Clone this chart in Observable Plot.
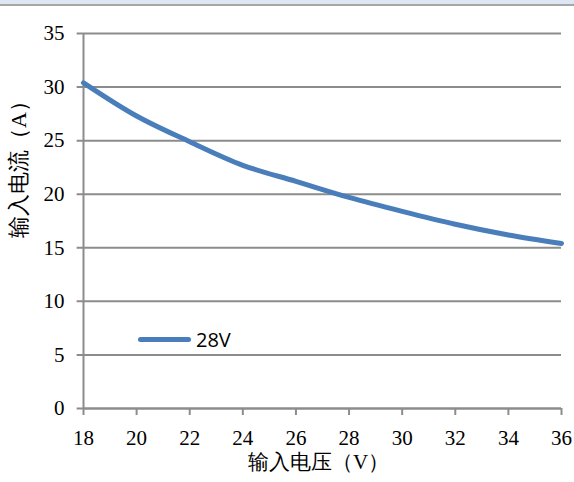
<!DOCTYPE html>
<html>
<head>
<meta charset="utf-8">
<script src="https://cdn.jsdelivr.net/npm/d3@7"></script>
<script src="https://cdn.jsdelivr.net/npm/@observablehq/plot@0.6"></script>
<style>
  html, body { margin: 0; padding: 0; background: #fff; font-family: serif; }
  #wrap { position: relative; width: 574px; height: 482px; overflow: hidden; }
  #topbar { position: absolute; left: 0; top: 0; width: 574px; height: 4px; background: #dde6f3; border-bottom: 2px solid #a6a6a6; }
  #legend { position: absolute; left: 138px; top: 326px; display: flex; align-items: center; font-family: "Open Sans", sans-serif; font-size: 20px; color: #000; }
  #legend .sw { width: 53px; height: 5px; border-radius: 3px; background: #4a7ebb; margin-right: 5px; }
</style>
</head>
<body>
<div id="wrap">
  <div id="chart"></div>
  <div id="topbar"></div>
  <div id="legend"><span class="sw"></span><span id="legtext"></span></div>
</div>
<script>
const voltage = [18, 20, 22, 24, 26, 28, 30, 32, 34, 36];
const current = [30.4, 27.3, 24.9, 22.7, 21.2, 19.7, 18.4, 17.2, 16.2, 15.4];
const seriesName = "28V";
const xTicks = [18, 20, 22, 24, 26, 28, 30, 32, 34, 36];
const yTicks = [0, 5, 10, 15, 20, 25, 30, 35];
const xLabel = "输入电压（V）";
const yLabel = "输入电流（A）";

const data = voltage.map((v, i) => ({v, i: current[i]}));
const grid = "#8c8c8c";

const plot = Plot.plot({
  width: 574,
  height: 482,
  marginLeft: 83,
  marginRight: 13,
  marginTop: 33,
  marginBottom: 74,
  style: "font-family: serif; font-size: 21px; color: #000; background: #fff;",
  x: {type: "linear", domain: [18, 36], axis: null},
  y: {type: "linear", domain: [0, 35], axis: null},
  marks: [
    Plot.gridY(yTicks, {stroke: grid, strokeOpacity: 1, strokeWidth: 2, x1: 17.76, x2: 36}),
    Plot.ruleX([18], {stroke: grid, strokeWidth: 2}),
    Plot.ruleY([0], {stroke: grid, strokeWidth: 2}),
    Plot.ruleX(xTicks, {x: d => d, y1: 0, y2: 0, insetBottom: -7, stroke: grid, strokeWidth: 2}),
    Plot.text(yTicks, {x: 18, y: d => d, text: d => String(d), textAnchor: "end", dx: -19, fontFamily: "serif", fontSize: 21, fill: "#000"}),
    Plot.text(xTicks, {x: d => d, y: 0, text: d => String(d), lineAnchor: "middle", dy: 30, fontFamily: "serif", fontSize: 21, fill: "#000"}),
    Plot.text([xLabel], {frameAnchor: "bottom", dy: 60, dx: -4, fontFamily: "serif", fontSize: 21, fill: "#000"}),
    Plot.text([yLabel], {frameAnchor: "left", dx: -65, dy: 17, rotate: -90, fontFamily: "serif", fontSize: 22, fill: "#000"}),
    Plot.line(data, {x: "v", y: "i", stroke: "#4a7ebb", strokeWidth: 5, curve: "monotone-x", strokeLinecap: "round"})
  ]
});
document.getElementById("chart").appendChild(plot);
document.getElementById("legtext").textContent = seriesName;
</script>
</body>
</html>
